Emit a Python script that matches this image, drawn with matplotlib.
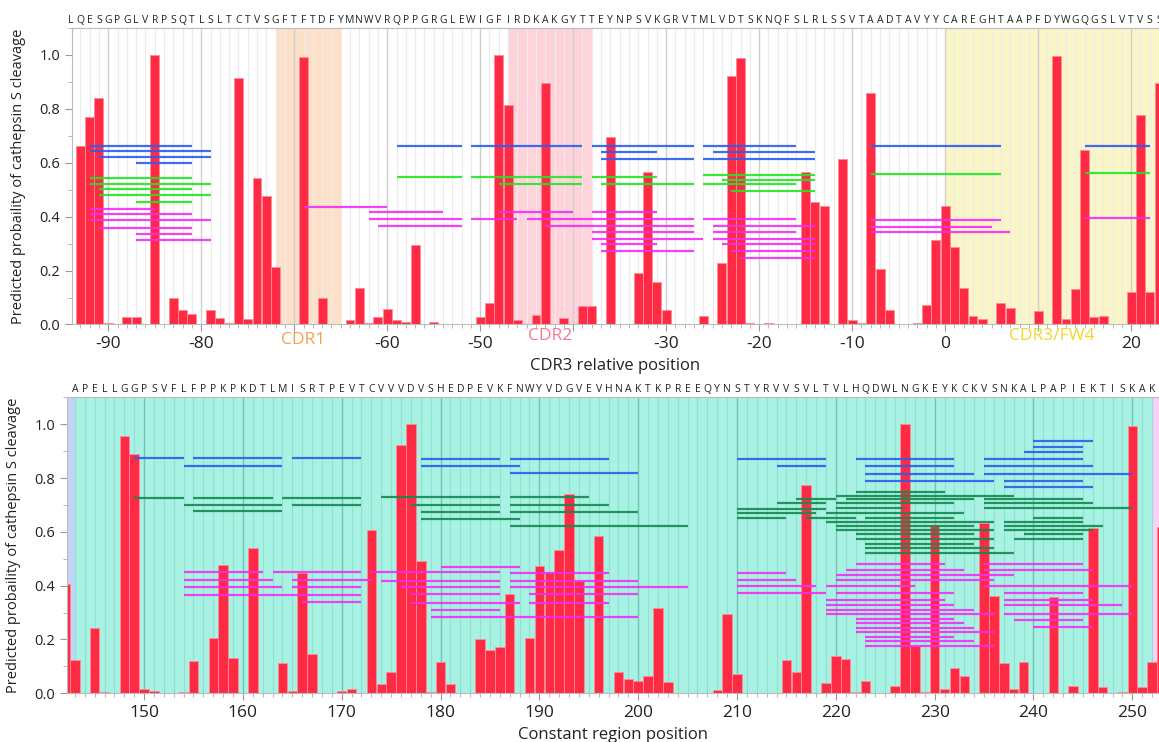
import numpy as np
import matplotlib
matplotlib.use("Agg")
import matplotlib.pyplot as plt
from matplotlib.ticker import MultipleLocator, FuncFormatter
from matplotlib.transforms import blended_transform_factory

plt.rcParams['font.family'] = ['Open Sans', 'DejaVu Sans']

# ---- variable region (positions relative to CDR3 start) ----
var_start = -93
var_prob = [
    0.663, 0.771, 0.839, 0.005, 0.003, 0.028, 0.028, 0.002, 1.0, 0.0,        # -93..-84
    0.097, 0.053, 0.038, 0.0, 0.053, 0.025, 0.006, 0.916, 0.019, 0.543,     # -83..-74
    0.475, 0.214, 0.003, 0.0, 0.994, 0.0, 0.1, 0.0, 0.0, 0.016,            # -73..-64
    0.136, 0.006, 0.028, 0.057, 0.016, 0.01, 0.295, 0.003, 0.01, 0.003,     # -63..-54
    0.003, 0.003, 0.003, 0.026, 0.078, 1.0, 0.813, 0.018, 0.003, 0.035,     # -53..-44
    0.897, 0.003, 0.025, 0.0, 0.068, 0.07, 0.003, 0.696, 0.0, 0.0,          # -43..-34
    0.19, 0.567, 0.157, 0.054, 0.003, 0.0, 0.0, 0.03, 0.003, 0.229,         # -33..-24
    0.922, 0.99, 0.005, 0.003, 0.005, 0.0, 0.003, 0.0, 0.567, 0.454,        # -23..-14
    0.441, 0.003, 0.614, 0.015, 0.005, 0.858, 0.204, 0.052, 0.0, 0.0,       # -13..-4
    0.007, 0.072, 0.314, 0.44, 0.287, 0.136, 0.03, 0.02, 0.003, 0.078,      # -3..6
    0.062, 0.003, 0.0, 0.05, 0.0, 0.995, 0.022, 0.133, 0.649, 0.028,        # 7..16
    0.033, 0.0, 0.003, 0.122, 0.777, 0.12, 0.895,                           # 17..23
]
var_seq_start = -94
var_seq = ("LQESGPGLVRPSQTLSLTCTVSGFTFTDFYMNWVRQPPGRGLEWIGFIRDKAKGYTT"
           "EYNPSVKGRVTMLVDTSKNQFSLRLSSVTAADTAVYYCAREGHTAAPFDYWGQGSLVTVSS")

# shaded CDR regions: (label, start, end)
cdr_regions = [("CDR1", -72, -65), ("CDR2", -47, -38), ("CDR3/FW4", 0, 30)]
cdr_label_x = [-69.0, -42.5, 11.5]

# peptide spans (start, end, probability level)
var_blue = [(-92, -81, 0.663), (-92, -79, 0.644), (-91, -79, 0.620), (-87, -81, 0.598),
            (-59, -52, 0.663), (-51, -39, 0.663), (-38, -27, 0.663), (-26, -16, 0.663),
            (-37, -31, 0.641), (-25, -14, 0.641), (-37, -27, 0.614), (-26, -14, 0.614),
            (-8, 6, 0.662), (15, 22, 0.663)]
var_green = [(-92, -81, 0.545), (-92, -79, 0.522), (-91, -81, 0.504), (-91, -79, 0.480),
             (-87, -81, 0.455), (-59, -52, 0.548), (-51, -39, 0.548), (-38, -31, 0.548),
             (-48, -39, 0.520), (-37, -27, 0.520), (-26, -16, 0.520), (-26, -14, 0.554),
             (-24, -14, 0.536), (-23, -14, 0.496), (-8, 6, 0.557), (15, 22, 0.562)]
var_magenta = [(-92, -85, 0.430), (-92, -81, 0.411), (-92, -79, 0.387), (-91, -81, 0.359),
               (-87, -81, 0.337), (-87, -79, 0.313), (-69, -60, 0.437), (-62, -54, 0.416),
               (-62, -52, 0.390), (-61, -52, 0.365), (-48, -40, 0.417), (-38, -31, 0.417),
               (-51, -46, 0.390), (-45, -27, 0.390), (-26, -16, 0.390), (-43, -27, 0.365),
               (-25, -14, 0.365), (-38, -27, 0.344), (-25, -16, 0.344), (-38, -26, 0.318),
               (-25, -14, 0.318), (-37, -31, 0.298), (-24, -14, 0.298), (-37, -27, 0.274),
               (-23, -14, 0.274), (-22, -14, 0.248), (-8, 6, 0.389), (-8, 5, 0.363),
               (-8, 7, 0.342), (15, 22, 0.394)]

# ---- constant region ----
const_start = 142
const_prob = [
    0.406, 0.123, 0.0, 0.243, 0.004, 0.0, 0.955, 0.891, 0.015, 0.007,       # 142..151
    0.0, 0.0, 0.004, 0.119, 0.003, 0.207, 0.475, 0.133, 0.0, 0.539,         # 152..161
    0.0, 0.0, 0.114, 0.01, 0.447, 0.147, 0.003, 0.0, 0.01, 0.016,           # 162..171
    0.0, 0.605, 0.035, 0.08, 0.921, 0.999, 0.493, 0.005, 0.118, 0.035,      # 172..181
    0.003, 0.0, 0.202, 0.162, 0.172, 0.368, 0.0, 0.207, 0.473, 0.45,        # 182..191
    0.534, 0.74, 0.418, 0.0, 0.586, 0.0, 0.08, 0.055, 0.047, 0.066,         # 192..201
    0.318, 0.042, 0.0, 0.0, 0.003, 0.0, 0.012, 0.295, 0.071, 0.0,           # 202..211
    0.0, 0.0, 0.003, 0.123, 0.081, 0.773, 0.0, 0.037, 0.139, 0.126,         # 212..221
    0.006, 0.046, 0.003, 0.0, 0.026, 1.0, 0.177, 0.006, 0.625, 0.017,       # 222..231
    0.094, 0.066, 0.003, 0.634, 0.361, 0.114, 0.015, 0.116, 0.0, 0.0,       # 232..241
    0.358, 0.0, 0.026, 0.0, 0.616, 0.025, 0.003, 0.006, 0.995, 0.022,       # 242..251
    0.116, 0.617,                                                           # 252..253
]
const_seq_start = 143
const_seq = ("APELLGGPSVFLFPPKPKDTLMISRTPEVTCVVVDVSHEDPEVKFNWYVDGVEVHNAKTKPREEQ"
             "YNSTYRVVSVLTVLHQDWLNGKEYKCKVSNKALPAPIEKTISKAK")

# domain background bands: (start, end)
const_bands = [(140, 143), (143, 252), (252, 260)]

const_blue = [(149, 154, 0.876), (155, 164, 0.876), (165, 172, 0.876), (154, 164, 0.846),
              (178, 186, 0.871), (187, 197, 0.871), (178, 188, 0.844), (187, 200, 0.820),
              (210, 219, 0.870), (214, 219, 0.843), (240, 246, 0.939), (240, 245, 0.917),
              (239, 245, 0.895), (222, 232, 0.870), (235, 245, 0.870), (223, 232, 0.843),
              (235, 246, 0.843), (223, 234, 0.815), (235, 250, 0.815), (223, 236, 0.790),
              (237, 245, 0.790), (237, 246, 0.765)]
const_green = [(149, 154, 0.725), (155, 163, 0.725), (164, 172, 0.727), (154, 164, 0.700),
               (165, 172, 0.700), (155, 164, 0.678), (174, 186, 0.729), (187, 195, 0.729),
               (177, 186, 0.700), (187, 197, 0.700), (178, 186, 0.674), (187, 200, 0.674),
               (178, 188, 0.649), (187, 205, 0.623), (210, 219, 0.686), (210, 218, 0.669),
               (210, 215, 0.653), (214, 219, 0.706), (222, 231, 0.748), (220, 238, 0.734),
               (216, 220, 0.722), (221, 234, 0.722), (235, 245, 0.722), (220, 232, 0.706),
               (235, 246, 0.706), (220, 227, 0.688), (235, 250, 0.688), (219, 233, 0.669),
               (217, 222, 0.653), (223, 232, 0.653), (240, 245, 0.653), (219, 236, 0.636),
               (237, 245, 0.636), (220, 234, 0.623), (237, 247, 0.623), (220, 236, 0.607),
               (237, 246, 0.607), (222, 234, 0.591), (239, 245, 0.591), (222, 236, 0.574),
               (238, 245, 0.574), (223, 234, 0.555), (223, 236, 0.539), (223, 238, 0.522)]
const_magenta = [(154, 162, 0.449), (163, 172, 0.449), (173, 186, 0.449), (187, 197, 0.447),
                 (154, 163, 0.421), (165, 173, 0.421), (174, 186, 0.419), (187, 200, 0.419),
                 (154, 164, 0.394), (165, 172, 0.394), (176, 186, 0.394), (187, 205, 0.394),
                 (154, 172, 0.364), (177, 186, 0.368), (189, 200, 0.368), (166, 172, 0.340),
                 (177, 188, 0.337), (189, 197, 0.337), (179, 186, 0.311), (179, 200, 0.284),
                 (180, 188, 0.470), (210, 215, 0.447), (210, 216, 0.421), (210, 218, 0.397),
                 (210, 219, 0.372), (222, 231, 0.482), (235, 245, 0.482), (221, 233, 0.460),
                 (235, 246, 0.460), (220, 238, 0.439), (220, 236, 0.421), (219, 228, 0.397),
                 (235, 250, 0.397), (220, 232, 0.372), (237, 245, 0.372), (219, 231, 0.347),
                 (237, 246, 0.347), (219, 232, 0.328), (237, 249, 0.328), (219, 234, 0.311),
                 (219, 236, 0.294), (237, 250, 0.294), (222, 232, 0.278), (238, 245, 0.273),
                 (222, 233, 0.260), (240, 246, 0.245), (222, 234, 0.242), (222, 236, 0.226),
                 (223, 232, 0.211), (223, 234, 0.193), (223, 236, 0.176)]

YLABEL = "Predicted probaility of cathepsin S cleavage"
BAR_COLOR = "#ff2a44"
BAR_EDGE = "#ff8c98"


def draw_panel(ax, start, probs, seq_start, seq, segs, xlim, grid_minor, grid_major):
    pos = np.arange(start, start + len(probs))
    ax.bar(pos, probs, width=0.96, color=BAR_COLOR, edgecolor=BAR_EDGE,
           linewidth=0.6, zorder=2)
    for color, lines in segs:
        for a, b, y in lines:
            ax.plot([a, b], [y, y], color=color, lw=1.6, alpha=0.9,
                    solid_capstyle='butt', zorder=3)
    ax.set_xlim(*xlim)
    ax.set_ylim(0, 1.1)
    ax.xaxis.set_major_locator(MultipleLocator(10))
    ax.xaxis.set_minor_locator(MultipleLocator(1))
    ax.yaxis.set_major_locator(MultipleLocator(0.2))
    ax.yaxis.set_minor_locator(MultipleLocator(0.1))
    ax.yaxis.set_major_formatter(matplotlib.ticker.FormatStrFormatter('%.1f'))
    ax.grid(which='minor', axis='x', color=grid_minor, lw=0.8, zorder=0)
    ax.grid(which='major', axis='x', color=grid_major, lw=1.0, zorder=0)
    ax.set_axisbelow(True)
    ax.tick_params(axis='x', which='major', labelsize=12.5, length=5,
                   color='#999999', labelcolor='#222222')
    ax.tick_params(axis='x', which='minor', length=3, color='#aaaaaa')
    ax.tick_params(axis='y', which='major', labelsize=10.5, length=5,
                   color='#999999', labelcolor='#222222')
    ax.tick_params(axis='y', which='minor', length=3, color='#aaaaaa')
    for s in ('left', 'bottom', 'top'):
        ax.spines[s].set_color('#bbbbbb')
    ax.spines['right'].set_visible(False)
    ax.set_ylabel(YLABEL, fontsize=10.5, color='#222222', labelpad=10)

    trans = blended_transform_factory(ax.transData, ax.transAxes)
    for i, ch in enumerate(seq):
        ax.text(seq_start + i, 1.008, ch, transform=trans, ha='center', va='bottom',
                fontsize=7.5, color='#222222', clip_on=False)


fig = plt.figure(figsize=(11.59, 7.42), dpi=100)

# top panel: variable region
ax1 = fig.add_axes([0.0621, 0.5627, 0.9379, 0.3996])
for (label, a, b), col in zip(cdr_regions, ["#fde0c8", "#ffd3da", "#faf5c6"]):
    ax1.axvspan(a, b, color=col, lw=0, zorder=0)
draw_panel(ax1, var_start, var_prob, var_seq_start, var_seq,
           [("#2a5cf0", var_blue), ("#22e622", var_green), ("#f52cf5", var_magenta)],
           (-93.9, 23.0), "#ececec", "#cfcfcf")
ax1.set_xlabel("CDR3 relative position", fontsize=12, color='#222222', labelpad=4)


# the CDR names take the place of the tick labels they sit on
def hide_under_cdr(v, _):
    if any(abs(v - lx) < 3 for lx in cdr_label_x):
        return ""
    return "%d" % v


ax1.xaxis.set_major_formatter(FuncFormatter(hide_under_cdr))
trans1 = blended_transform_factory(ax1.transData, ax1.transAxes)
for (label, a, b), lx, col, ly in zip(cdr_regions, cdr_label_x,
                                      ["#f7a04c", "#f47a8e", "#f0d82a"],
                                      [-0.052, -0.040, -0.040]):
    ax1.text(lx, ly, label, transform=trans1, ha='center', va='center',
             fontsize=12.5, color=col, clip_on=False)

# bottom panel: constant region
ax2 = fig.add_axes([0.0578, 0.0656, 0.9422, 0.399])
for (a, b), col in zip(const_bands, ["#c4d4f6", "#a8f2e4", "#fbd0f6"]):
    ax2.axvspan(a, b, color=col, lw=0, zorder=0)
draw_panel(ax2, const_start, const_prob, const_seq_start, const_seq,
           [("#2a5cf0", const_blue), ("#128a4c", const_green), ("#f52cf5", const_magenta)],
           (142.2, 252.7), "#93dfd1", "#72c4b5")
ax2.set_xlabel("Constant region position", fontsize=12, color='#222222', labelpad=4)

fig.savefig("out.png", dpi=100)
